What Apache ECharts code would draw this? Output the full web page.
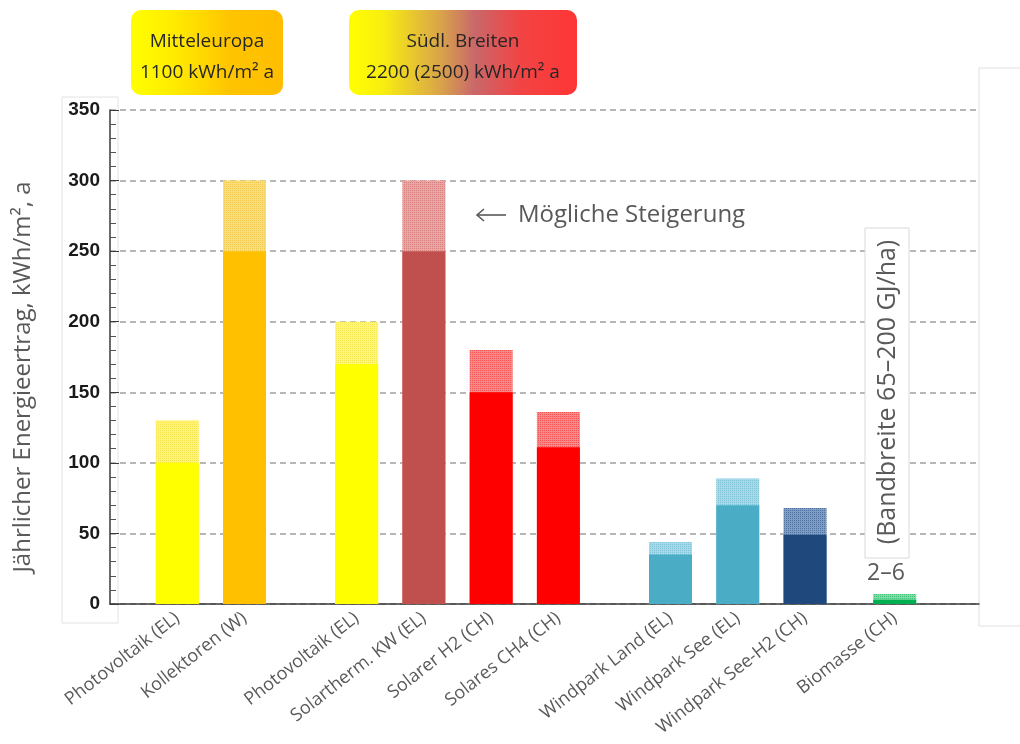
<!DOCTYPE html>
<html>
<head>
<meta charset="utf-8">
<script src="https://cdn.jsdelivr.net/npm/echarts@6/dist/echarts.min.js"></script>
<style>
  html, body { margin: 0; padding: 0; background: #ffffff; }
  #chart { width: 1020px; height: 744px; }
</style>
</head>
<body>
<div id="chart"></div>
<script>
// ---- data ----
const categories = ['Photovoltaik (EL)', 'Kollektoren (W)', 'Photovoltaik (EL)', 'Solartherm. KW (EL)', 'Solarer H2 (CH)', 'Solares CH4 (CH)', 'Windpark Land (EL)', 'Windpark See (EL)', 'Windpark See-H2 (CH)', 'Biomasse (CH)'];
const groups = ['Mitteleuropa', 'Mitteleuropa', 'Süd', 'Süd', 'Süd', 'Süd', 'Wind', 'Wind', 'Wind', 'Biomasse'];
const baseValues = [100, 250, 170, 250, 150, 111, 35, 70, 49, 3];
const totalValues = [130, 300, 200, 300, 180, 136, 44, 89, 68, 7];
const yTickLabels = ['0', '50', '100', '150', '200', '250', '300', '350'];

// ---- styles ----
const baseColors = ['#ffff00', '#ffc000', '#ffff00', '#c0504d', '#ff0000', '#ff0000', '#4bacc6', '#4bacc6', '#1f497d', '#00b050'];
const extColors = ['#fff47a', '#f9df7c', '#fff67a', '#e9a6a4', '#f48a8a', '#f48a8a', '#a9d9e8', '#a9d9e8', '#7f9cc4', '#80dba6'];
const dotColors = ['rgba(230,200,0,0.35)', 'rgba(230,160,0,0.35)', 'rgba(230,200,0,0.35)', 'rgba(192,80,77,0.45)', 'rgba(255,0,0,0.4)', 'rgba(255,0,0,0.4)', 'rgba(75,172,198,0.45)', 'rgba(75,172,198,0.45)', 'rgba(31,73,125,0.5)', 'rgba(0,176,80,0.5)'];

// ---- layout: positions along the x axis follow a spacing rule ----
const LEAD = 3, STEP = 3, X_MAX = 38.76;
const GROUP_GAP = { 'Mitteleuropa>Süd': 2, 'Süd>Wind': 2, 'Wind>Biomasse': 1 };
const slotOf = [];
let pos = LEAD;
for (let i = 0; i < categories.length; i++) {
  if (i > 0) {
    pos += STEP;
    if (groups[i] !== groups[i - 1]) pos += GROUP_GAP[groups[i - 1] + '>' + groups[i]];
  }
  slotOf.push(pos);
}
const labelMap = {};
categories.forEach((name, i) => { labelMap[slotOf[i]] = name; });

const totalData = categories.map((_, i) => ({
  value: [slotOf[i], totalValues[i]],
  itemStyle: {
    color: extColors[i],
    decal: { symbol: 'rect', symbolSize: 1, dashArrayX: [1, 1], dashArrayY: [1, 1], color: dotColors[i] }
  }
}));
const baseData = categories.map((_, i) => ({
  value: [slotOf[i], baseValues[i]],
  itemStyle: { color: baseColors[i] }
}));

const FONT = 'Open Sans, Noto Sans, sans-serif';
const GREY = '#595959';

const chart = echarts.init(document.getElementById('chart'), null, { renderer: 'canvas' });
chart.setOption({
  animation: false,
  backgroundColor: '#ffffff',
  grid: { left: 110, right: 41, top: 110, bottom: 140, containLabel: false, outerBoundsMode: 'none' },
  xAxis: {
    type: 'value',
    min: 0, max: X_MAX, interval: 1,
    axisLine: { show: true, onZero: false, lineStyle: { color: '#3a3a3a', width: 1.5 } },
    axisTick: { show: false },
    axisLabel: {
      interval: 0, rotate: 38, margin: 12, hideOverlap: false,
      showMinLabel: true, showMaxLabel: true,
      color: GREY, fontSize: 18, fontFamily: FONT,
      formatter: (v) => labelMap[Math.round(v)] !== undefined && Math.abs(v - Math.round(v)) < 1e-6 ? labelMap[Math.round(v)] : ''
    },
    splitLine: { show: false }
  },
  yAxis: {
    type: 'value',
    min: 0, max: 350, interval: 50,
    axisLine: { show: true, lineStyle: { color: '#3a3a3a', width: 1.5 } },
    axisTick: { show: true, inside: true, length: 9, lineStyle: { color: '#3a3a3a', width: 1 } },
    minorTick: { show: true, splitNumber: 5, length: 6, lineStyle: { color: '#555', width: 1 } },
    axisLabel: {
      color: '#1a1a1a', fontSize: 19, fontWeight: 'bold', fontFamily: 'Liberation Sans, Arial, sans-serif', margin: 10,
      formatter: (v) => yTickLabels[Math.round(v / 50)]
    },
    splitLine: { show: true, lineStyle: { color: '#a0a0a0', width: 1.5, type: [6, 4] } }
  },
  series: [
    { type: 'bar', barWidth: 43, barGap: '-100%', data: totalData, z: 3 },
    { type: 'bar', barWidth: 43, barGap: '-100%', data: baseData, z: 4 }
  ],
  graphic: [
    // y label box
    { type: 'rect', z: -10, silent: true, shape: { x: 62, y: 97, width: 56, height: 526 },
      style: { fill: '#ffffff', stroke: '#e2e2e2', lineWidth: 1 } },
    // right panel
    { type: 'rect', z: -10, silent: true, shape: { x: 979, y: 68, width: 60, height: 558 },
      style: { fill: '#ffffff', stroke: '#e0e0e0', lineWidth: 1 } },
    // y axis title
    { type: 'text', z: 11, x: 23, y: 377, rotation: Math.PI / 2,
      style: { x: 0, y: 0, text: 'Jährlicher Energieertrag, kWh/m², a', fill: GREY, font: '24px ' + FONT, textAlign: 'center', textVerticalAlign: 'middle' } },
    // top box 1
    { type: 'rect', z: 10, shape: { x: 131, y: 10, width: 152, height: 85, r: 10 },
      style: { fill: { type: 'linear', x: 0, y: 0, x2: 1, y2: 0, colorStops: [
        { offset: 0, color: '#ffff00' }, { offset: 0.3, color: '#ffea00' }, { offset: 0.65, color: '#ffc400' }, { offset: 1, color: '#ffbe00' } ] } } },
    { type: 'text', z: 11, style: { x: 207, y: 42, text: 'Mitteleuropa', fill: '#262626', font: '19px ' + FONT, textAlign: 'center', textVerticalAlign: 'middle' } },
    { type: 'text', z: 11, style: { x: 207, y: 73, text: '1100 kWh/m² a', fill: '#262626', font: '19px ' + FONT, textAlign: 'center', textVerticalAlign: 'middle' } },
    // top box 2
    { type: 'rect', z: 10, shape: { x: 349, y: 10, width: 228, height: 85, r: 10 },
      style: { fill: { type: 'linear', x: 0, y: 0, x2: 1, y2: 0, colorStops: [
        { offset: 0, color: '#ffff00' }, { offset: 0.15, color: '#f8ee10' }, { offset: 0.4, color: '#d9a44a' }, { offset: 0.55, color: '#c9686a' }, { offset: 0.75, color: '#f24444' }, { offset: 1, color: '#ff3535' } ] } } },
    { type: 'text', z: 11, style: { x: 463, y: 42, text: 'Südl. Breiten', fill: '#262626', font: '19px ' + FONT, textAlign: 'center', textVerticalAlign: 'middle' } },
    { type: 'text', z: 11, style: { x: 463, y: 73, text: '2200 (2500) kWh/m² a', fill: '#262626', font: '19px ' + FONT, textAlign: 'center', textVerticalAlign: 'middle' } },
    // annotation arrow + text
    { type: 'line', z: 11, shape: { x1: 477, y1: 215, x2: 506, y2: 215 }, style: { stroke: GREY, lineWidth: 1.6 } },
    { type: 'polyline', z: 11, shape: { points: [[484, 209], [477, 215], [484, 221]] }, style: { stroke: GREY, lineWidth: 1.6, fill: null } },
    { type: 'text', z: 11, style: { x: 518, y: 215, text: 'Mögliche Steigerung', fill: GREY, font: '24px ' + FONT, textAlign: 'left', textVerticalAlign: 'middle' } },
    // biomass band box
    { type: 'rect', z: 10, shape: { x: 865, y: 228, width: 44, height: 330 },
      style: { fill: '#ffffff', stroke: '#d9d9d9', lineWidth: 1 } },
    { type: 'text', z: 11, x: 888, y: 392, rotation: Math.PI / 2,
      style: { x: 0, y: 0, text: '(Bandbreite 65–200 GJ/ha)', fill: GREY, font: '25px ' + FONT, textAlign: 'center', textVerticalAlign: 'middle' } },
    { type: 'text', z: 11, style: { x: 886, y: 573, text: '2–6', fill: GREY, font: '23px ' + FONT, textAlign: 'center', textVerticalAlign: 'middle' } }
  ]
});
</script>
</body>
</html>
